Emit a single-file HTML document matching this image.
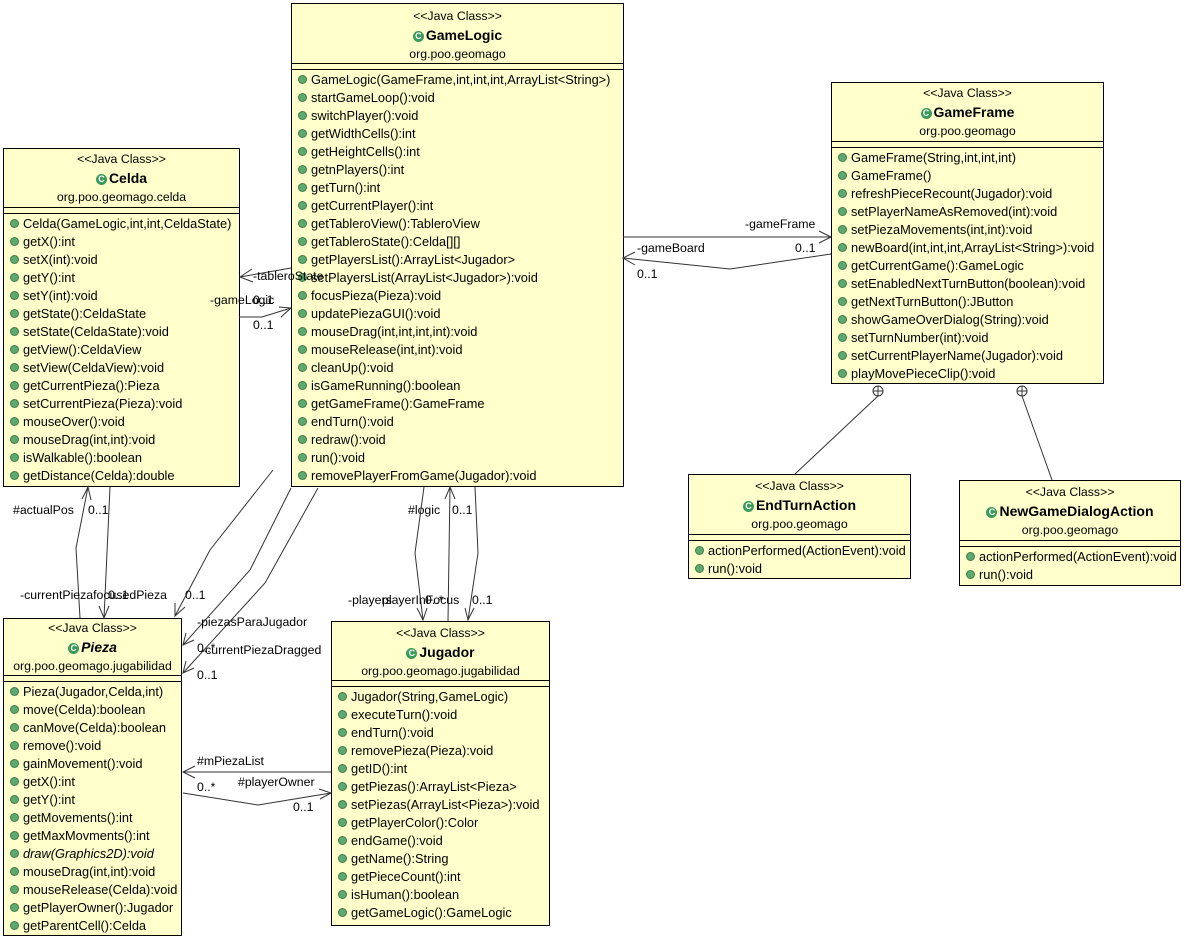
<!DOCTYPE html>
<html><head><meta charset="utf-8"><style>
body{margin:0;width:1185px;height:940px;background:#fff;position:relative;overflow:hidden;font-family:"Liberation Sans",sans-serif;font-size:12.8px;color:#000}
.b{position:absolute;background:#ffffcc;border:1px solid #000;box-sizing:border-box}
.t{position:absolute;left:0;right:0;text-align:center;white-space:nowrap;font-size:12.3px}
.n{font-weight:bold;font-size:14px}
.c{display:inline-block;width:11px;height:11px;border-radius:50%;background:#3a9a5a;color:#fff;font-size:9px;line-height:11px;text-align:center;font-weight:bold;vertical-align:1px;margin-right:2px}
.hl{position:absolute;left:0;right:0;border-top:1px solid #000}
.r{position:absolute;left:6px;white-space:nowrap;line-height:14px}
.d{display:inline-block;width:7px;height:7px;border-radius:50%;background:#5fa86f;border:0.5px solid #3d7d4b;margin-right:4px;vertical-align:0}
.l{position:absolute;white-space:nowrap;line-height:14px;font-size:12.3px}
svg{position:absolute;left:0;top:0}
</style></head><body>

<svg width="1185" height="940" fill="none" stroke="#333" stroke-width="1">
<polyline points="623,237 831,237"/><polyline points="819,231 831,237 819,243"/>
<polyline points="831,254 730,269 623,258"/><polyline points="635,252 623,258 635,265"/>
<polyline points="291,268 240,277"/><polyline points="252,269 240,277 253,282"/>
<polyline points="239,317 262,317 291,308"/><polyline points="279,307 291,308 281,317"/>
<polyline points="80,618 76,548 88,487"/><polyline points="82,499 88,487 91,500"/>
<polyline points="110,487 104,618"/><polyline points="99,606 104,618 109,606"/>
<polyline points="273,470 210,550 175,616"/><polyline points="175,603 175,616 185,607"/>
<polyline points="291,488 250,570 183,645"/><polyline points="186,633 183,645 194,640"/>
<polyline points="318,488 265,583 183,673"/><polyline points="186,661 183,673 194,668"/>
<polyline points="424,487 415,553 423,620"/><polyline points="417,608 423,620 427,608"/>
<polyline points="448,621 450,487"/><polyline points="445,499 450,487 455,499"/>
<polyline points="475,487 478,553 468,620"/><polyline points="465,608 468,620 474,608"/>
<polyline points="331,772 183,772"/><polyline points="195,766 183,772 195,778"/>
<polyline points="183,793 258,805 331,793"/><polyline points="319,789 331,793 320,799"/>
<polyline points="878,396 795,474"/><polyline points="1022,396 1052,480"/>
<circle cx="878" cy="391" r="5" fill="#fff"/><path d="M873,391h10M878,386v10"/>
<circle cx="1022" cy="391" r="5" fill="#fff"/><path d="M1017,391h10M1022,386v10"/>
</svg>

<script>
function box(x,y,w,h,name,pkg,rows,ty,rowTop,lines,ital){
 var s='<div class="b" style="left:'+x+'px;top:'+y+'px;width:'+w+'px;height:'+h+'px">';
 s+='<div class="t" style="top:'+ty+'px">&lt;&lt;Java Class&gt;&gt;</div>';
 s+='<div class="t n" style="top:'+(ty+18)+'px'+(ital?';font-style:italic':'')+'"><span class="c">C</span>'+name+'</div>';
 s+='<div class="t" style="top:'+(ty+38)+'px">'+pkg+'</div>';
 s+='<div class="hl" style="top:'+lines[0]+'px"></div><div class="hl" style="top:'+lines[1]+'px"></div>';
 for(var i=0;i<rows.length;i++){var it=(ital&&rows[i].indexOf('draw(')==0)?';font-style:italic':'';s+='<div class="r" style="top:'+(rowTop+i*18)+'px'+it+'"><span class="d"></span>'+rows[i].replace(/</g,'&lt;').replace(/>/g,'&gt;')+'</div>';}
 return s+'</div>';
}
var h='';
h+=box(291,3,333,484,'GameLogic','org.poo.geomago',['GameLogic(GameFrame,int,int,int,ArrayList<String>)','startGameLoop():void','switchPlayer():void','getWidthCells():int','getHeightCells():int','getnPlayers():int','getTurn():int','getCurrentPlayer():int','getTableroView():TableroView','getTableroState():Celda[][]','getPlayersList():ArrayList<Jugador>','setPlayersList(ArrayList<Jugador>):void','focusPieza(Pieza):void','updatePiezaGUI():void','mouseDrag(int,int,int,int):void','mouseRelease(int,int):void','cleanUp():void','isGameRunning():boolean','getGameFrame():GameFrame','endTurn():void','redraw():void','run():void','removePlayerFromGame(Jugador):void'],5,69,[59,65]);
h+=box(3,148,237,339,'Celda','org.poo.geomago.celda',['Celda(GameLogic,int,int,CeldaState)','getX():int','setX(int):void','getY():int','setY(int):void','getState():CeldaState','setState(CeldaState):void','getView():CeldaView','setView(CeldaView):void','getCurrentPieza():Pieza','setCurrentPieza(Pieza):void','mouseOver():void','mouseDrag(int,int):void','isWalkable():boolean','getDistance(Celda):double'],3,68,[58,64]);
h+=box(831,82,273,302,'GameFrame','org.poo.geomago',['GameFrame(String,int,int,int)','GameFrame()','refreshPieceRecount(Jugador):void','setPlayerNameAsRemoved(int):void','setPiezaMovements(int,int):void','newBoard(int,int,int,ArrayList<String>):void','getCurrentGame():GameLogic','setEnabledNextTurnButton(boolean):void','getNextTurnButton():JButton','showGameOverDialog(String):void','setTurnNumber(int):void','setCurrentPlayerName(Jugador):void','playMovePieceClip():void'],3,68,[58,64]);
h+=box(688,474,223,105,'EndTurnAction','org.poo.geomago',['actionPerformed(ActionEvent):void','run():void'],4,69,[59,65]);
h+=box(959,480,222,106,'NewGameDialogAction','org.poo.geomago',['actionPerformed(ActionEvent):void','run():void'],4,69,[59,65]);
h+=box(3,618,179,318,'Pieza','org.poo.geomago.jugabilidad',['Pieza(Jugador,Celda,int)','move(Celda):boolean','canMove(Celda):boolean','remove():void','gainMovement():void','getX():int','getY():int','getMovements():int','getMaxMovments():int','draw(Graphics2D):void','mouseDrag(int,int):void','mouseRelease(Celda):void','getPlayerOwner():Jugador','getParentCell():Celda'],2,66,[56,62],true);
h+=box(331,621,219,305,'Jugador','org.poo.geomago.jugabilidad',['Jugador(String,GameLogic)','executeTurn():void','endTurn():void','removePieza(Pieza):void','getID():int','getPiezas():ArrayList<Pieza>','setPiezas(ArrayList<Pieza>):void','getPlayerColor():Color','endGame():void','getName():String','getPieceCount():int','isHuman():boolean','getGameLogic():GameLogic'],4,68,[58,64]);
document.body.insertAdjacentHTML('afterbegin',h);
</script>

<div class="l" style="left:745px;top:217px">-gameFrame</div>
<div class="l" style="left:795px;top:241px">0..1</div>
<div class="l" style="left:637px;top:241px">-gameBoard</div>
<div class="l" style="left:637px;top:267px">0..1</div>
<div class="l" style="left:253px;top:269px">-tableroState</div>
<div class="l" style="left:210px;top:293px">-gameLogic</div>
<div class="l" style="left:253px;top:293px">0..1</div>
<div class="l" style="left:253px;top:318px">0..1</div>
<div class="l" style="left:13px;top:503px">#actualPos</div>
<div class="l" style="left:88px;top:503px">0..1</div>
<div class="l" style="left:20px;top:588px">-currentPiezafocusedPieza</div>
<div class="l" style="left:108px;top:588px">0..1</div>
<div class="l" style="left:185px;top:588px">0..1</div>
<div class="l" style="left:197px;top:615px">-piezasParaJugador</div>
<div class="l" style="left:197px;top:641px">0..*</div>
<div class="l" style="left:201px;top:643px">-currentPiezaDragged</div>
<div class="l" style="left:197px;top:668px">0..1</div>
<div class="l" style="left:408px;top:503px">#logic</div>
<div class="l" style="left:452px;top:503px">0..1</div>
<div class="l" style="left:348px;top:593px">-players</div>
<div class="l" style="left:382px;top:593px">playerInFocus</div>
<div class="l" style="left:425px;top:593px">0..*</div>
<div class="l" style="left:472px;top:593px">0..1</div>
<div class="l" style="left:197px;top:754px">#mPiezaList</div>
<div class="l" style="left:197px;top:780px">0..*</div>
<div class="l" style="left:238px;top:775px">#playerOwner</div>
<div class="l" style="left:293px;top:800px">0..1</div>
</body></html>
